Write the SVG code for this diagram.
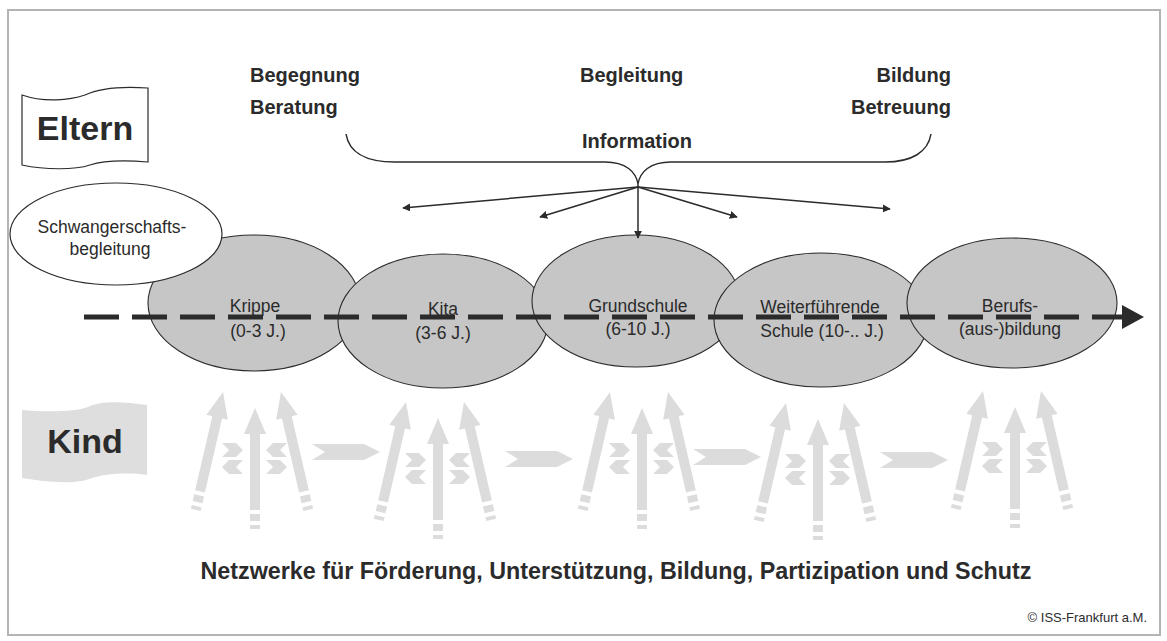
<svg xmlns="http://www.w3.org/2000/svg" width="1167" height="641" viewBox="0 0 1167 641">
<style>
text{font-family:"Liberation Sans",Arial,Helvetica,sans-serif;fill:#2b2b2b}
.lbl{font-size:20px;font-weight:bold}
.big{font-size:34px;font-weight:bold}
.body{font-size:17.5px}
.stage{fill:#c6c6c6;stroke:#2b2b2b;stroke-width:1.1}
.lg{fill:#dcdcdc}
.conn{stroke:#2b2b2b;stroke-width:1.5;fill:none}
</style>
<defs>
<marker id="ah" viewBox="0 0 10 10" refX="9" refY="5" markerWidth="8" markerHeight="8" markerUnits="userSpaceOnUse" orient="auto">
<path d="M0,0 L10,5 L0,10 Z" fill="#2b2b2b"/>
</marker>
<g id="up">
<path d="M0,0 L11,26 L5,26 L5,102 L-5,102 L-5,26 L-11,26 Z"/>
<rect x="-5" y="106" width="10" height="7"/>
<rect x="-5" y="117" width="10" height="4"/>
</g>
<path id="chR" d="M0,0 L14,0 L21,7 L14,14 L0,14 L7,7 Z"/>
<path id="chL" d="M21,0 L7,0 L0,7 L7,14 L21,14 L14,7 Z"/>
<g id="grp">
<use href="#up"/>
<use href="#up" transform="translate(-32,-16) rotate(13)"/>
<use href="#up" transform="translate(26,-16) rotate(-13)"/>
<use href="#chR" transform="translate(-33,35)"/>
<use href="#chL" transform="translate(-33,52)"/>
<use href="#chL" transform="translate(11,35)"/>
<use href="#chR" transform="translate(11,52)"/>
</g>
<path id="harr" d="M0,-8 L52,-8 L68,0 L52,8 L0,8 L13,0 Z"/>
</defs>

<rect x="8" y="10" width="1152" height="625" fill="none" stroke="#b4b4b4" stroke-width="2"/>

<g id="eltern">
<path d="M22,95 C45,103 70,100 85,95 C100,88 120,86 148,88 L148,162 C125,160 105,160 90,165 C75,170 45,170 22,165 Z" fill="#fff" stroke="#2b2b2b" stroke-width="1.2"/>
<text class="big" x="85" y="140" text-anchor="middle">Eltern</text>
</g>

<g id="kind">
<path d="M22,410 C45,412 75,412 88,407 C102,400 125,402 147,405 L147,475 C125,472 105,474 92,478 C75,485 45,482 22,478 Z" fill="#dedede"/>
<text class="big" x="85" y="453" text-anchor="middle">Kind</text>
</g>

<g id="labels">
<text class="lbl" x="250" y="82">Begegnung</text>
<text class="lbl" x="250" y="114">Beratung</text>
<text class="lbl" x="580" y="82">Begleitung</text>
<text class="lbl" x="951" y="82" text-anchor="end">Bildung</text>
<text class="lbl" x="951" y="114" text-anchor="end">Betreuung</text>
<text class="lbl" x="637" y="148" text-anchor="middle">Information</text>
</g>

<g id="stages">
<g id="krippe"><ellipse class="stage" cx="254" cy="303" rx="106" ry="68"/>
<text class="body" x="255" y="312" text-anchor="middle">Krippe</text>
<text class="body" x="258" y="337" text-anchor="middle">(0-3 J.)</text></g>
<g id="kita"><ellipse class="stage" cx="443" cy="321" rx="105" ry="67"/>
<text class="body" x="443" y="315" text-anchor="middle">Kita</text>
<text class="body" x="443" y="339" text-anchor="middle">(3-6 J.)</text></g>
<g id="grundschule"><ellipse class="stage" cx="636" cy="301" rx="104" ry="66"/>
<text class="body" x="638" y="312" text-anchor="middle">Grundschule</text>
<text class="body" x="638" y="335" text-anchor="middle">(6-10 J.)</text></g>
<g id="weiter"><ellipse class="stage" cx="821" cy="320" rx="107" ry="67"/>
<text class="body" x="820" y="313" text-anchor="middle">Weiterführende</text>
<text class="body" x="822" y="337" text-anchor="middle">Schule (10-.. J.)</text></g>
<g id="beruf"><ellipse class="stage" cx="1012" cy="303" rx="105" ry="65"/>
<text class="body" x="1010" y="312" text-anchor="middle">Berufs-</text>
<text class="body" x="1010" y="335" text-anchor="middle">(aus-)bildung</text></g>
</g>

<g id="schwanger">
<ellipse cx="116" cy="234" rx="106" ry="51" fill="#fff" stroke="#2b2b2b" stroke-width="1.2"/>
<text class="body" x="112" y="233" text-anchor="middle">Schwangerschafts-</text>
<text class="body" x="110" y="255" text-anchor="middle">begleitung</text>
</g>

<g id="connectors">
<path class="conn" d="M346,134 C349,152 365,162 395,162 L605,162 C626,162 636,172 638,184 C640,172 650,162 671,162 L885,162 C912,162 928,152 931,134"/>
<line class="conn" x1="638" y1="187" x2="403" y2="208" marker-end="url(#ah)"/>
<line class="conn" x1="638" y1="187" x2="540" y2="217" marker-end="url(#ah)"/>
<line class="conn" x1="638" y1="184" x2="638" y2="238" marker-end="url(#ah)"/>
<line class="conn" x1="638" y1="187" x2="737" y2="217" marker-end="url(#ah)"/>
<line class="conn" x1="638" y1="187" x2="890" y2="209" marker-end="url(#ah)"/>
<line x1="84" y1="317" x2="1125" y2="317" stroke="#2b2b2b" stroke-width="5" stroke-dasharray="35 13"/>
<path d="M1122,305 L1144,317 L1122,329 Z" fill="#2b2b2b"/>
</g>

<g id="kind-arrows" class="lg">
<use href="#grp" transform="translate(255,408)"/>
<use href="#grp" transform="translate(438,418)"/>
<use href="#grp" transform="translate(642,408)"/>
<use href="#grp" transform="translate(818,419)"/>
<use href="#grp" transform="translate(1015,407)"/>
<use href="#harr" transform="translate(312,452)"/>
<use href="#harr" transform="translate(505,459)"/>
<use href="#harr" transform="translate(693,457)"/>
<use href="#harr" transform="translate(880,460)"/>
</g>

<g id="footer">
<text x="616" y="579" text-anchor="middle" style="font-size:23.3px;font-weight:bold">Netzwerke für Förderung, Unterstützung, Bildung, Partizipation und Schutz</text>
<text x="1147" y="622" text-anchor="end" style="font-size:13px">© ISS-Frankfurt a.M.</text>
</g>
</svg>
